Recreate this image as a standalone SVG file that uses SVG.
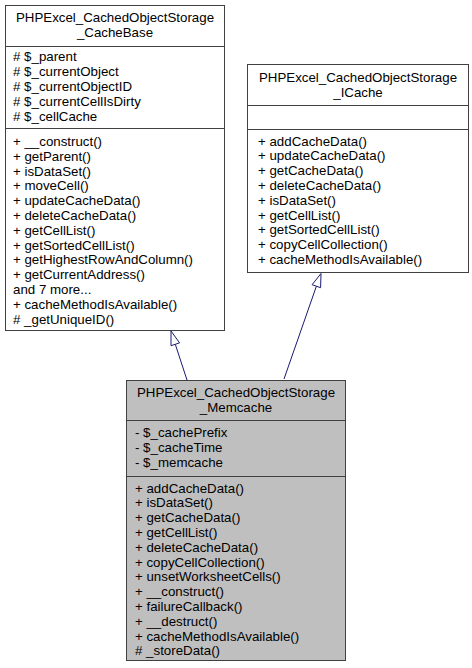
<svg xmlns="http://www.w3.org/2000/svg" width="472" height="668" viewBox="0 0 472 668">
<defs>
<style>
.box{fill:#ffffff;stroke:#404040;stroke-width:1}
.cur{fill:#bfbfbf;stroke:#404040;stroke-width:1}
.sep{stroke:#404040;stroke-width:1}
text{font-family:"Liberation Sans",Arial,Helvetica,sans-serif;font-size:13.3px;fill:#000000}
.c{text-anchor:middle}
.edge{fill:none;stroke:#191970;stroke-width:1}
.head{fill:#ffffff;stroke:#191970;stroke-width:1}
</style>
</defs>
<rect width="472" height="668" fill="#ffffff"/>
<g id="edges">
<path class="edge" d="M187,380 L175.3,344.3"/>
<polygon class="head" points="171,331 179.6,342.9 171,345.7"/>
<path class="edge" d="M284,379 L316.4,286.2"/>
<polygon class="head" points="321,273.5 320.6,287.7 312.1,284.7"/>
</g>
<g id="node_cachebase">
<rect class="box" x="5.5" y="5.5" width="219" height="325"/>
<text class="c" x="115" y="22">PHPExcel_CachedObjectStorage</text>
<text class="c" x="115" y="37">_CacheBase</text>
<line class="sep" x1="5.5" y1="46.5" x2="224.5" y2="46.5"/>
<text x="13" y="61"># $_parent</text>
<text x="13" y="76"># $_currentObject</text>
<text x="13" y="91"># $_currentObjectID</text>
<text x="13" y="106"># $_currentCellIsDirty</text>
<text x="13" y="121"># $_cellCache</text>
<line class="sep" x1="5.5" y1="128.5" x2="224.5" y2="128.5"/>
<text x="13" y="146">+ __construct()</text>
<text x="13" y="160.8">+ getParent()</text>
<text x="13" y="175.6">+ isDataSet()</text>
<text x="13" y="190.4">+ moveCell()</text>
<text x="13" y="205.2">+ updateCacheData()</text>
<text x="13" y="220">+ deleteCacheData()</text>
<text x="13" y="234.8">+ getCellList()</text>
<text x="13" y="249.6">+ getSortedCellList()</text>
<text x="13" y="264.4">+ getHighestRowAndColumn()</text>
<text x="13" y="279.2">+ getCurrentAddress()</text>
<text x="13" y="294">and 7 more...</text>
<text x="13" y="308.8">+ cacheMethodIsAvailable()</text>
<text x="13" y="323.6"># _getUniqueID()</text>
</g>
<g id="node_icache">
<rect class="box" x="247.5" y="64.5" width="221" height="208"/>
<text class="c" x="358" y="81.5">PHPExcel_CachedObjectStorage</text>
<text class="c" x="358" y="97">_ICache</text>
<line class="sep" x1="247.5" y1="105.5" x2="468.5" y2="105.5"/>
<line class="sep" x1="247.5" y1="129.5" x2="468.5" y2="129.5"/>
<text x="258" y="145.5">+ addCacheData()</text>
<text x="258" y="160.3">+ updateCacheData()</text>
<text x="258" y="175.1">+ getCacheData()</text>
<text x="258" y="189.9">+ deleteCacheData()</text>
<text x="258" y="204.7">+ isDataSet()</text>
<text x="258" y="219.5">+ getCellList()</text>
<text x="258" y="234.3">+ getSortedCellList()</text>
<text x="258" y="249.1">+ copyCellCollection()</text>
<text x="258" y="263.9">+ cacheMethodIsAvailable()</text>
</g>
<g id="node_memcache">
<rect class="cur" x="126.5" y="380.5" width="219" height="280"/>
<text class="c" x="236" y="397">PHPExcel_CachedObjectStorage</text>
<text class="c" x="236" y="412">_Memcache</text>
<line class="sep" x1="126.5" y1="420.5" x2="345.5" y2="420.5"/>
<text x="135" y="437">- $_cachePrefix</text>
<text x="135" y="452">- $_cacheTime</text>
<text x="135" y="467">- $_memcache</text>
<line class="sep" x1="126.5" y1="476.5" x2="345.5" y2="476.5"/>
<text x="135" y="492.5">+ addCacheData()</text>
<text x="135" y="507.3">+ isDataSet()</text>
<text x="135" y="522.1">+ getCacheData()</text>
<text x="135" y="536.9">+ getCellList()</text>
<text x="135" y="551.7">+ deleteCacheData()</text>
<text x="135" y="566.5">+ copyCellCollection()</text>
<text x="135" y="581.3">+ unsetWorksheetCells()</text>
<text x="135" y="596.1">+ __construct()</text>
<text x="135" y="610.9">+ failureCallback()</text>
<text x="135" y="625.7">+ __destruct()</text>
<text x="135" y="640.5">+ cacheMethodIsAvailable()</text>
<text x="135" y="655.3"># _storeData()</text>
</g>
</svg>
